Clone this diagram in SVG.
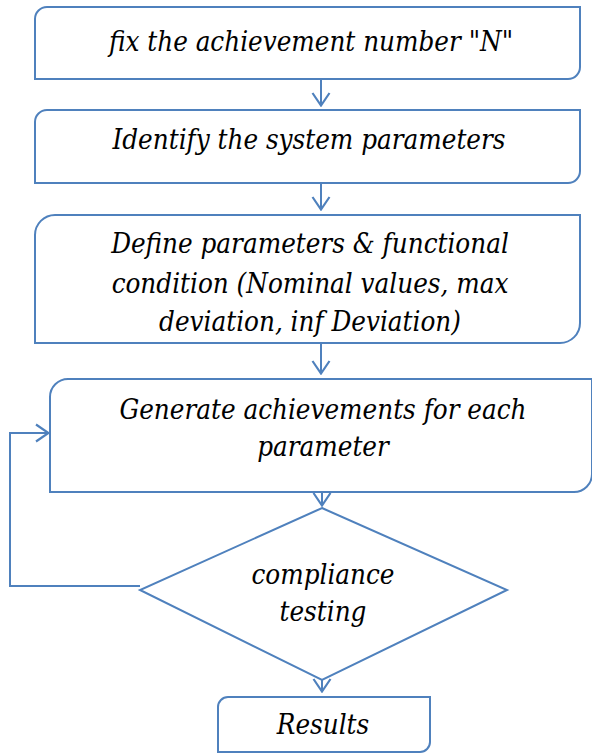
<svg xmlns="http://www.w3.org/2000/svg" width="592" height="754" viewBox="0 0 592 754">
<defs>
<style>
.shape{fill:#fff;stroke:#4F81BD;stroke-width:2}
.conn{fill:none;stroke:#4F81BD;stroke-width:2}
text{font-family:"DejaVu Serif Condensed","DejaVu Serif",serif;font-style:italic;font-size:27.5px;fill:#000;text-anchor:middle}
</style>
<marker id="arr" viewBox="0 0 15 20" refX="14" refY="10" markerWidth="15" markerHeight="20" markerUnits="userSpaceOnUse" orient="auto">
<path d="M1,1.5 L13.5,10 L1,18.5" fill="none" stroke="#4F81BD" stroke-width="2.2"/>
</marker>
</defs>
<g id="connectors">
<line class="conn" x1="321" y1="79" x2="321" y2="106" marker-end="url(#arr)"/>
<line class="conn" x1="321" y1="183" x2="321" y2="210" marker-end="url(#arr)"/>
<line class="conn" x1="321" y1="343" x2="321" y2="374" marker-end="url(#arr)"/>
<line class="conn" x1="322" y1="492" x2="322" y2="506" marker-end="url(#arr)"/>
<line class="conn" x1="322" y1="680" x2="322" y2="692" marker-end="url(#arr)"/>
<polyline class="conn" points="140,586 10,586 10,433 49,433" marker-end="url(#arr)"/>
</g>
<g id="n1">
<path class="shape" d="M47,7 H580 V67 A12,12 0 0 1 568,79 H35 V19 A12,12 0 0 1 47,7 Z"/>
<text x="311" y="51">fix the achievement number "N"</text>
</g>
<g id="n2">
<path class="shape" d="M47,110 H580 V171 A12,12 0 0 1 568,183 H35 V122 A12,12 0 0 1 47,110 Z"/>
<text x="309" y="149">Identify the system parameters</text>
</g>
<g id="n3">
<path class="shape" d="M55,215 H580 V323 A20,20 0 0 1 560,343 H35 V235 A20,20 0 0 1 55,215 Z"/>
<text x="310" y="253">Define parameters &amp; functional</text>
<text x="310" y="293">condition (Nominal values, max</text>
<text x="310" y="331">deviation, inf Deviation)</text>
</g>
<g id="n4">
<path class="shape" d="M68,379 H592 V474 A18,18 0 0 1 574,492 H50 V397 A18,18 0 0 1 68,379 Z"/>
<text x="323" y="419">Generate achievements for each</text>
<text x="323" y="456">parameter</text>
</g>
<g id="n5">
<polygon class="shape" points="322,508 507,590 322,680 140,590"/>
<text x="323" y="584">compliance</text>
<text x="323" y="621">testing</text>
</g>
<g id="n6">
<path class="shape" d="M228,697 H430 V742 A10,10 0 0 1 420,752 H218 V707 A10,10 0 0 1 228,697 Z"/>
<text x="323" y="734">Results</text>
</g>
</svg>
